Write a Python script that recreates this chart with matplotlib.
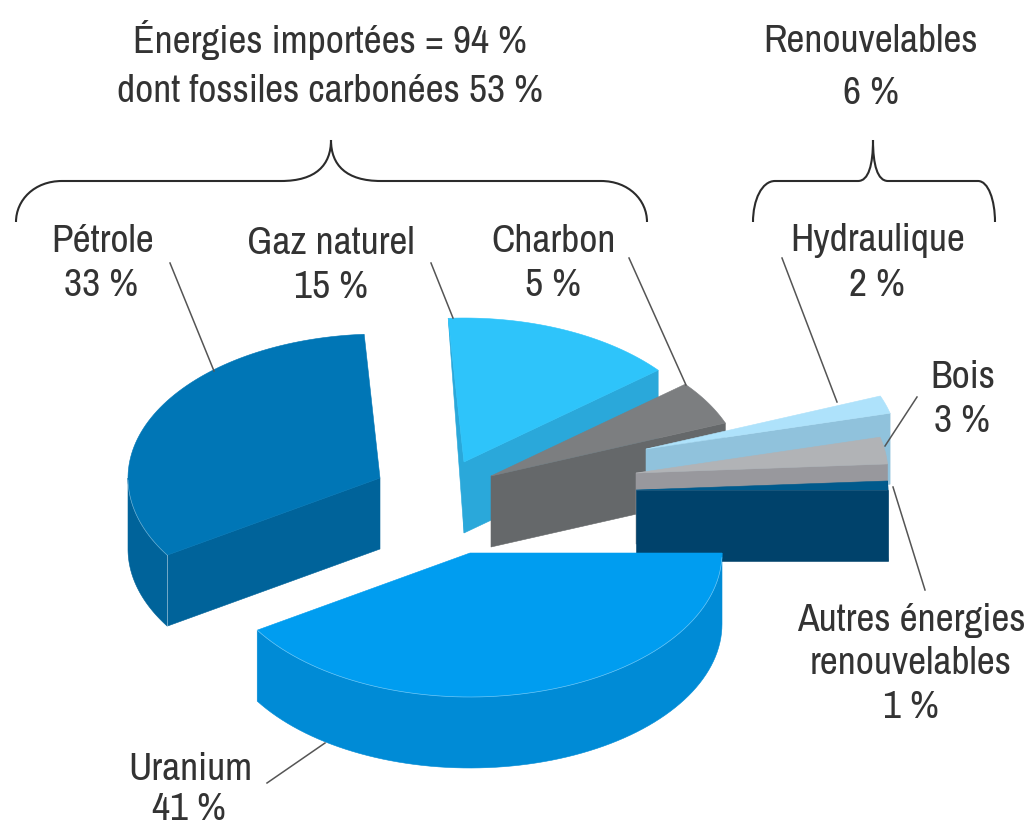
import numpy as np
import matplotlib
matplotlib.use("Agg")
import matplotlib.pyplot as plt
from matplotlib.patches import Polygon, PathPatch
from matplotlib.path import Path

plt.rcParams["font.family"] = ["Archivo Narrow", "Roboto Condensed", "Liberation Sans"]

# -------- DATA --------
NAMES = ["Uranium", "Pétrole", "Gaz naturel", "Charbon", "Hydraulique", "Bois", "Autres"]
VALUES = [41, 33, 15, 5, 2, 3, 1]
TOTAL_IMPORTED = 94
TOTAL_FOSSIL = 53
TOTAL_RENEW = 6

# -------- LAYOUT --------
APEX = [(470, 553), (380, 478), (464, 462), (491, 476), (646, 449), (636, 473), (636, 490)]
TOPS = ["#009df0", "#0076b6", "#2ec4fa", "#7c7e80", "#aee2fb", "#b1b3b6", "#005a8c"]
SIDES = ["#008bd6", "#00639a", "#2aa8da", "#65686a", "#90c2dc", "#98989d", "#00426b"]
RX, RY, DEPTH = 252, 144, 71
TEXT = "#333333"
FS = 28.5

fig = plt.figure(figsize=(10.29, 8.27), dpi=100)
ax = fig.add_axes([0, 0, 1, 1])
ax.set_xlim(0, 1029)
ax.set_ylim(827, 0)
ax.axis("off")


def rim(apex, t1, t2, n=80):
    t = np.radians(np.linspace(t1, t2, n))
    return np.column_stack([apex[0] + RX * np.cos(t), apex[1] + RY * np.sin(t)])


def down(pts):
    return pts + np.array([0, DEPTH])


def slab(a, b, color, z):
    # vertical face between the two top edges a -> b
    pts = np.vstack([a, b, down(np.vstack([a, b]))[::-1]])
    ax.add_patch(Polygon(pts, closed=True, fc=color, ec=color, lw=0.4, zorder=z))


# slices are drawn back to front
angles = np.cumsum([0] + VALUES) * 3.6
order = [2, 3, 4, 5, 6, 1, 0]
for z, i in enumerate(order):
    t1, t2 = angles[i], angles[i + 1]
    apex = np.array(APEX[i], dtype=float)
    arc = rim(apex, t1, t2)
    zz = 2 + z
    # cut faces
    if t1 > 90 and t1 < 180:
        slab(apex[None], arc[:1], SIDES[i], zz)
    if t2 > 270:
        slab(apex[None], arc[-1:], SIDES[i], zz)
    if i == 2:
        # thin sliver of the back cut on the gas slice
        ax.add_patch(Polygon(np.vstack([apex, arc[:1], down(apex[None])]), closed=True,
                             fc=SIDES[i], ec=SIDES[i], lw=0.4, zorder=zz))
    # outer wall, only the part that faces the viewer
    a = max(t1, 0)
    b = min(t2, 180)
    if b > a:
        wall = rim(apex, a, b)
        ax.add_patch(Polygon(np.vstack([wall, down(wall)[::-1]]), closed=True,
                             fc=SIDES[i], ec=SIDES[i], lw=0.4, zorder=zz))
    if i == 6:
        wall = np.vstack([arc[-1:], arc[:1]])
        slab(wall[:1], wall[1:], SIDES[i], zz)
    ax.add_patch(Polygon(np.vstack([apex, arc]), closed=True,
                         fc=TOPS[i], ec=TOPS[i], lw=0.4, zorder=zz + 0.5))
    if i in (0, 1):
        ax.plot(arc[arc[:, 1] > apex[1], 0], arc[arc[:, 1] > apex[1], 1], color="white",
                lw=0.5, alpha=0.4, zorder=zz + 0.6)

# seam on the front corner of the oil slice
corner = rim(np.array(APEX[1], dtype=float), angles[1], angles[1], n=1)
ax.plot([corner[0, 0]] * 2, [corner[0, 1], corner[0, 1] + DEPTH], color="white", lw=0.6, alpha=0.5, zorder=20)


# -------- BRACES --------
def brace(x0, x1, xm, bend, r0, r1, y=181):
    verts = [(x0, 222), (x0, 200), (x0 + r0 * 0.4, y), (x0 + r0, y), (xm - bend, y),
             (xm - bend * 0.3, y), (xm, 165), (xm, 140),
             (xm, 165), (xm + bend * 0.3, y), (xm + bend, y),
             (x1 - r1, y), (x1 - r1 * 0.4, y), (x1, 200), (x1, 222)]
    codes = [Path.MOVETO, Path.CURVE4, Path.CURVE4, Path.CURVE4, Path.LINETO,
             Path.CURVE4, Path.CURVE4, Path.CURVE4,
             Path.CURVE4, Path.CURVE4, Path.CURVE4,
             Path.LINETO, Path.CURVE4, Path.CURVE4, Path.CURVE4]
    ax.add_patch(PathPatch(Path(verts, codes), fc="none", ec="#2b2b2b", lw=1.5, zorder=30))


brace(16, 647, 331, 50, 46, 46)
brace(753, 995, 873, 15, 22, 17)

# -------- LEADERS --------
LEADERS = [((170, 263), (214, 371)), ((431, 263), (453, 318)), ((629, 258), (686, 385)),
           ((782, 258), (837, 402)), ((917, 397), (885, 446)), ((893, 487), (925, 590)),
           ((267, 783), (325, 743))]
for (xa, ya), (xb, yb) in LEADERS:
    ax.plot([xa, xb], [ya, yb], color="#555555", lw=1.1, zorder=30)


# -------- LABELS --------
def label(x, y, s):
    ax.text(x, y, s, ha="center", va="center", fontsize=FS, color=TEXT, zorder=40)


label(330, 40, f"Énergies importées = {TOTAL_IMPORTED} %")
label(330, 91, f"dont fossiles carbonées {TOTAL_FOSSIL} %")
label(871, 41, "Renouvelables")
label(871, 94, f"{TOTAL_RENEW} %")
label(103, 241, NAMES[1])
label(101, 285, f"{VALUES[1]} %")
label(331, 243, NAMES[2])
label(331, 287, f"{VALUES[2]} %")
label(554, 241, NAMES[3])
label(553, 285, f"{VALUES[3]} %")
label(878, 241, NAMES[4])
label(877, 285, f"{VALUES[4]} %")
label(963, 377, NAMES[5])
label(962, 421, f"{VALUES[5]} %")
label(911, 620, "Autres énergies")
label(911, 664, "renouvelables")
label(911, 708, f"{VALUES[6]} %")
label(190, 769, NAMES[0])
label(189, 810, f"{VALUES[0]} %")

fig.savefig("out.png", dpi=100, facecolor="white")
